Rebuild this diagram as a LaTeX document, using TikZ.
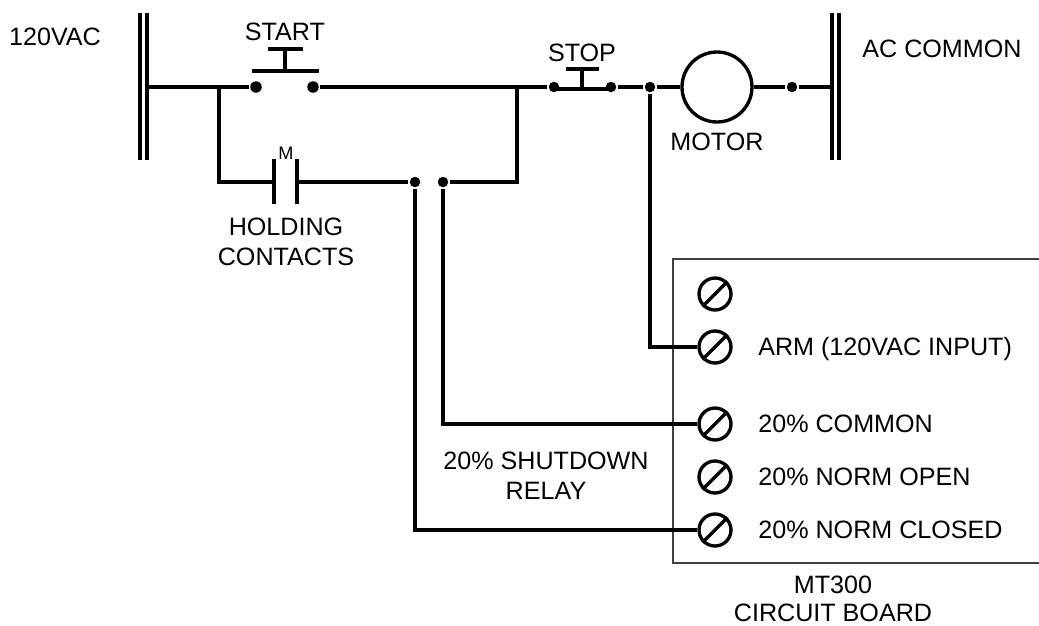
\documentclass[tikz,border=0pt]{standalone}
\usepackage{fontspec}
\setmainfont{Liberation Sans}
\usetikzlibrary{positioning}

\tikzset{
  dot/.style={circle, fill, inner sep=0pt, minimum size=0.21cm},
  bigdot/.style={dot, minimum size=0.23cm},
  screw/.style={circle, draw, inner sep=0pt, minimum size=0.64cm},
  txt/.style={inner sep=0pt, align=center},
  word/.style={txt, text height=10.2pt, text depth=0pt},
}

\begin{document}
\begin{tikzpicture}[x=0.02cm, y=-0.02cm, line width=1.9pt,
    font=\fontsize{14.3}{17}\selectfont]
        \useasboundingbox (0,0) rectangle (1039,626);

        % bus bars
        \draw (140,13) -- (140,160);
        \draw (147,13) -- (147,160);
        \draw (832,13) -- (832,160);
        \draw (839,13) -- (839,160);
        \node[word] (hot) at (55,37) {120VAC};
        \node[word] (com) at (942,49) {AC COMMON};

        % points
        \coordinate (lbus) at (147,87);
        \coordinate (rbus) at (832,87);
        \coordinate (jl) at (219,87);
        \coordinate (jr) at (517,87);
        \coordinate (m1) at (274,182);
        \coordinate (m2) at (297,182);
        \node[bigdot] (st1) at (256,87) {};
        \node[bigdot] (st2) at (313,87) {};
        \node[dot] (sp1) at (554,87) {};
        \node[dot] (sp2) at (611,87) {};
        \node[dot] (ja) at (650,87) {};
        \node[dot] (jm) at (792,87) {};
        \node[dot] (nc) at (415,182) {};
        \node[dot] (cm) at (443,182) {};
        \node[circle, draw, minimum size=1.4cm] (motor) at (717,87) {};
        \node[word, below=0.14cm of motor] (mot) {MOTOR};

        % top rung
        \draw (lbus) -- (st1);
        \draw (st2) -- (sp1);
        \draw (sp2) -- (ja) -- (motor) -- (jm) -- (rbus);

        % start button
        \draw (252,71) -- (319,71);
        \draw (285,71) -- (285,49);
        \draw (268,49) -- (303,49);
        \node[word] (start) at (285,32) {START};

        % stop button
        \draw (554,89) -- (611,89);
        \draw (582,89) -- (582,69);
        \draw (566,69) -- (599,69);
        \node[word] (stop) at (582,53) {STOP};

        % holding contacts
        \draw (jl) |- (m1);
        \draw (274,159) -- (274,204);
        \draw (297,159) -- (297,204);
        \draw (m2) -- (nc);
        \draw (cm) -| (jr);
        \node[txt, font=\fontsize{10.3}{12}\selectfont] (mlab) at (286,153) {M};
        \node[txt] (hold) at (286,242) {HOLDING\\CONTACTS};

        % circuit board
        \draw[line width=0.7pt, black!75] (1039,259) -| (673,563) -- (1039,563);
        \node[screw] (t0) at (715,294) {};
        \node[screw] (t1) at (715,347) {};
        \node[screw] (t2) at (715,424) {};
        \node[screw] (t3) at (715,477) {};
        \node[screw] (t4) at (715,530) {};
        \foreach \t in {t0,t1,t2,t3,t4}
            \draw (\t.225) -- (\t.45);
        \node[word, right=0.48cm of t1] (arm) {ARM (120VAC INPUT)};
        \node[word, right=0.48cm of t2] (com20) {20\% COMMON};
        \node[word, right=0.48cm of t3] (no20) {20\% NORM OPEN};
        \node[word, right=0.48cm of t4] (nc20) {20\% NORM CLOSED};
        \node[txt] (board) at (833,599) {MT300\\[-1pt]CIRCUIT BOARD};

        % relay wires
        \draw (ja) |- (t1);
        \draw (cm) |- (t2);
        \draw (nc) |- (t4);
        \node[txt] (relay) at (546,476) {20\% SHUTDOWN\\RELAY};
    \end{tikzpicture}
\end{document}
